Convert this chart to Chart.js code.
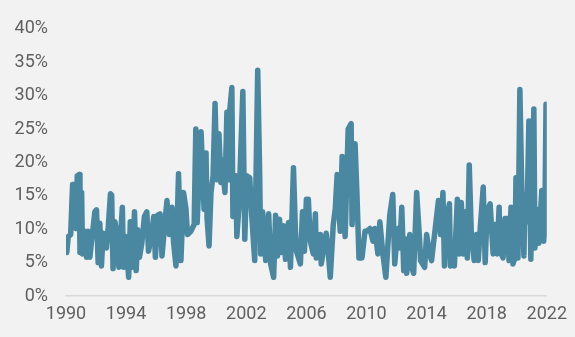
<!DOCTYPE html>
<html>
<head>
<meta charset="utf-8">
<script src="https://cdn.jsdelivr.net/npm/chart.js@4"></script>
<style>
  html, body { margin: 0; padding: 0; background: #f2f2f2; }
  #wrap { width: 575px; height: 337px; position: relative; }
</style>
</head>
<body>
<div id="wrap"><canvas id="c"></canvas></div>
<script>
const years = [
  1990.05,1990.15,1990.31,1990.44,1990.60,1990.66,1990.75,1990.88,1990.93,1991.04,
  1991.10,1991.26,1991.37,1991.47,1991.59,1991.70,1991.80,1991.92,1992.03,1992.14,
  1992.25,1992.36,1992.47,1992.58,1992.69,1992.80,1992.96,1993.04,1993.13,1993.26,
  1993.39,1993.52,1993.64,1993.75,1993.83,1993.97,1994.05,1994.17,1994.28,1994.41,
  1994.56,1994.67,1994.78,1994.89,1995.04,1995.22,1995.38,1995.49,1995.67,1995.84,
  1995.95,1996.10,1996.26,1996.39,1996.55,1996.72,1996.88,1997.05,1997.16,1997.32,
  1997.49,1997.65,1997.82,1997.98,1998.09,1998.31,1998.53,1998.64,1998.73,1998.99,
  1999.19,1999.32,1999.39,1999.52,1999.65,1999.79,1999.92,2000.05,2000.18,2000.31,
  2000.38,2000.58,2000.71,2000.84,2000.91,2001.04,2001.11,2001.31,2001.37,2001.50,
  2001.77,2001.90,2002.03,2002.23,2002.36,2002.56,2002.76,2002.89,2002.96,2003.09,
  2003.29,2003.49,2003.62,2003.82,2003.95,2004.08,2004.21,2004.35,2004.48,2004.61,
  2004.81,2004.94,2005.14,2005.27,2005.34,2005.60,2005.74,2005.87,2006.00,2006.13,
  2006.26,2006.46,2006.60,2006.66,2006.93,2006.99,2007.26,2007.32,2007.45,2007.59,
  2007.79,2007.92,2008.05,2008.25,2008.38,2008.51,2008.58,2008.78,2008.98,2009.04,
  2009.24,2009.37,2009.50,2009.70,2009.90,2010.03,2010.23,2010.43,2010.56,2010.76,
  2010.89,2011.09,2011.29,2011.55,2011.75,2011.88,2012.08,2012.21,2012.35,2012.48,
  2012.55,2012.68,2012.88,2013.01,2013.14,2013.34,2013.54,2013.60,2013.87,2014.00,
  2014.20,2014.33,2014.53,2014.79,2014.93,2015.09,2015.19,2015.32,2015.52,2015.59,
  2015.79,2015.85,2016.05,2016.18,2016.31,2016.45,2016.58,2016.71,2016.84,2016.98,
  2017.17,2017.31,2017.44,2017.57,2017.77,2017.90,2018.03,2018.23,2018.43,2018.56,
  2018.69,2018.83,2018.89,2019.09,2019.22,2019.36,2019.49,2019.62,2019.75,2019.88,
  2019.95,2020.08,2020.21,2020.35,2020.48,2020.55,2020.68,2020.81,2020.94,2021.14,
  2021.21,2021.34,2021.47,2021.67,2021.80,2021.87,2021.95
];
const rates = [
  6.5,8.9,9.2,16.7,16.7,10.1,18.0,18.2,6.5,15.5,
  6.3,9.7,5.8,9.7,5.8,8.2,10.1,12.6,12.9,5.0,
  10.9,4.5,9.4,9.2,7.2,9.9,15.3,15.1,4.1,11.1,
  9.2,4.3,9.2,13.3,4.3,8.9,6.7,2.8,11.1,4.3,
  12.6,3.8,9.9,5.8,7.8,11.9,12.6,6.7,8.7,11.9,
  5.8,12.1,12.3,6.0,10.1,14.3,9.2,13.3,8.0,4.5,
  18.3,5.3,15.5,13.1,9.2,9.7,10.7,25.0,11.0,24.6,
  13.0,21.4,11.6,7.5,15.5,18.0,28.8,17.4,24.3,17.0,
  20.4,15.5,27.5,17.4,28.0,31.2,11.9,18.0,8.9,13.0,
  30.6,8.5,18.0,17.7,12.1,5.3,33.8,18.4,6.3,12.6,
  5.3,12.3,4.8,2.8,12.1,6.0,11.5,6.5,10.5,5.5,
  11.0,4.3,19.2,9.7,6.7,4.8,12.6,6.7,14.5,14.5,
  8.2,6.3,12.3,5.7,9.2,4.8,8.6,9.4,6.7,2.8,
  10.7,13.0,18.2,9.7,20.9,12.1,8.9,25.0,25.8,10.7,
  22.8,15.0,5.7,5.7,9.7,9.7,10.1,8.2,10.1,6.3,
  11.1,6.3,2.8,12.1,15.2,4.8,10.1,7.2,13.3,3.8,
  8.6,3.4,9.2,4.3,3.4,15.5,8.2,5.3,4.3,9.2,
  6.3,5.3,9.2,14.3,9.2,15.5,4.5,11.1,13.8,4.5,
  6.7,4.5,14.5,6.3,14.0,6.3,12.6,5.7,19.6,9.2,
  5.3,9.2,5.3,10.1,16.3,5.0,12.6,13.8,6.3,10.7,
  6.3,13.3,6.7,5.7,11.6,11.6,5.3,13.3,4.8,5.7,
  17.7,5.7,30.9,14.5,6.0,15.2,11.1,26.2,5.5,28.0,
  7.2,13.0,7.9,15.8,8.2,10.1,28.7
];
const xTickStart = 1990, xTickEnd = 2022, xTickStep = 4;
const yTickMax = 40, yTickStep = 5;

const points = years.map((y, i) => ({ x: y, y: rates[i] }));
const FONT = { family: 'Roboto', size: 18 };
const TXT = '#606060';

new Chart(document.getElementById('c'), {
  type: 'line',
  data: {
    datasets: [{
      data: points,
      borderColor: '#4a87a1',
      backgroundColor: '#4a87a1',
      borderWidth: 5.5,
      pointRadius: 0,
      tension: 0,
      borderJoinStyle: 'round',
      borderCapStyle: 'round',
      fill: false
    }]
  },
  options: {
    responsive: true,
    maintainAspectRatio: false,
    animation: false,
    layout: { padding: { top: 23, right: 25, bottom: 0, left: 0 } },
    plugins: { legend: { display: false }, tooltip: { enabled: false } },
    scales: {
      x: {
        type: 'linear',
        min: xTickStart,
        max: xTickEnd,
        grid: { display: false, drawTicks: false },
        border: { display: true, color: '#d9d9d9', width: 1.5 },
        ticks: {
          stepSize: xTickStep,
          color: TXT,
          font: FONT,
          padding: 8,
          maxRotation: 0,
          autoSkip: false,
          callback: v => String(v)
        },
        afterFit: s => { s.height = 41; }
      },
      y: {
        min: 0,
        max: yTickMax,
        grid: { display: false, drawTicks: false },
        border: { display: false },
        ticks: {
          stepSize: yTickStep,
          color: TXT,
          font: FONT,
          padding: 18,
          callback: v => v + '%'
        },
        afterFit: s => { s.width = 66; }
      }
    }
  }
});
</script>
</body>
</html>
